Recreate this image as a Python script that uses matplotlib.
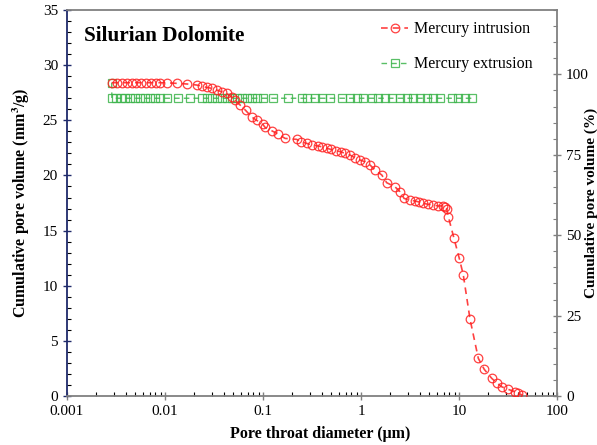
import numpy as np
import matplotlib
matplotlib.use('Agg')
import matplotlib.pyplot as plt
from matplotlib.ticker import MultipleLocator, LogLocator, NullFormatter, FixedLocator

plt.rcParams.update({
    'font.family': 'Liberation Serif',
    'font.size': 11,
    'mathtext.fontset': 'stix',
})

# mercury intrusion: pore throat diameter (um) vs cumulative volume (mm3/g)
intr_d = [0.00286, 0.00321, 0.00361, 0.00406, 0.00457, 0.00506, 0.00565, 0.00640,
          0.00715, 0.00804, 0.00889, 0.0104, 0.0132, 0.0169, 0.0210, 0.0237,
          0.0267, 0.0300, 0.0337, 0.0379, 0.0427, 0.0479, 0.0518, 0.0582,
          0.0665, 0.0767, 0.0862, 0.0993, 0.105, 0.123, 0.143, 0.168,
          0.221, 0.242, 0.279, 0.314, 0.367, 0.397, 0.447, 0.491,
          0.556, 0.621, 0.687, 0.773, 0.869, 0.977, 1.10, 1.24,
          1.39, 1.63, 1.83, 2.22, 2.50, 2.75, 3.16, 3.56,
          3.94, 4.33, 4.86, 5.47, 6.15, 6.92, 7.19, 7.48,
          7.78, 8.89, 10.07, 11.07, 12.95, 15.74, 18.1, 21.6,
          24.6, 27.3, 31.9, 37.3, 40.3, 44.3]
intr_v = [28.41, 28.41, 28.41, 28.41, 28.41, 28.41, 28.41, 28.41,
          28.41, 28.41, 28.41, 28.40, 28.35, 28.29, 28.20, 28.10,
          27.98, 27.90, 27.74, 27.59, 27.44, 27.10, 26.80, 26.40,
          25.90, 25.30, 25.00, 24.65, 24.36, 24.05, 23.75, 23.36,
          23.27, 23.06, 22.91, 22.76, 22.67, 22.60, 22.46, 22.37,
          22.24, 22.15, 22.00, 21.85, 21.60, 21.40, 21.24, 20.94,
          20.49, 20.04, 19.34, 18.98, 18.52, 17.92, 17.77, 17.68,
          17.59, 17.47, 17.38, 17.32, 17.23, 17.25, 17.16, 17.00,
          16.26, 14.30, 12.48, 10.97, 6.98, 3.42, 2.42, 1.60,
          1.15, 0.84, 0.60, 0.39, 0.24, 0.09]

# mercury extrusion
extr_d = [0.00286, 0.00287, 0.00316, 0.00353, 0.00391, 0.00440, 0.00494, 0.00556,
          0.00625, 0.00703, 0.00791, 0.00889, 0.0104, 0.0137, 0.0180, 0.0237,
          0.0266, 0.0300, 0.0337, 0.0379, 0.0427, 0.0480, 0.0540, 0.0607,
          0.0683, 0.0768, 0.0863, 0.101, 0.127, 0.181, 0.248, 0.279,
          0.340, 0.397, 0.483, 0.636, 0.773, 0.904, 1.05, 1.28,
          1.50, 1.76, 2.06, 2.50, 2.93, 3.42, 4.00, 4.68,
          5.47, 6.40, 8.43, 9.85, 11.5, 13.6]
extr_v = [28.41] + [27.0] * (len(extr_d) - 1)

red = '#ff2020'
green = '#3cb44b'
navy = '#1f2a6b'
grey = '#808080'

fig = plt.figure(figsize=(5.97, 4.45), dpi=100)
ax = fig.add_axes([0.1122, 0.110, 0.8208, 0.8675])

ax.plot(intr_d, intr_v, ls=(0, (4, 3)), color=red, lw=1.2, marker='o', ms=6.2,
        mfc='none', mec=red, mew=0.9, alpha=0.85, label='Mercury intrusion', zorder=3)
ax.plot(extr_d, extr_v, ls=(0, (4, 3)), color=green, lw=1.0, marker='s', ms=6,
        mfc='none', mec=green, mew=0.9, alpha=0.85, label='Mercury extrusion', zorder=2)

ax.set_xscale('log')
ax.set_xlim(0.001, 100)
ax.set_ylim(0, 35)
ax.set_xticks([0.001, 0.01, 0.1, 1, 10, 100])
ax.set_xticklabels(['0.001', '0.01', '0.1', '1', '10', '100'])
ax.xaxis.set_minor_locator(LogLocator(base=10, subs=np.arange(2, 10)))
ax.xaxis.set_minor_formatter(NullFormatter())
ax.yaxis.set_major_locator(MultipleLocator(5))
ax.yaxis.set_minor_locator(MultipleLocator(1))

ax.tick_params(which='major', direction='inout', length=6, width=1, labelsize=11)
ax.tick_params(which='minor', direction='in', length=3, width=0.8)
ax.tick_params(axis='x', colors=grey, labelcolor='black')
ax.tick_params(axis='y', colors=navy, labelcolor='black')

for s in ['top', 'right', 'bottom']:
    ax.spines[s].set_color(grey)
    ax.spines[s].set_linewidth(1.3)
ax.spines['left'].set_color(navy)
ax.spines['left'].set_linewidth(1.3)

ax.set_xlabel('Pore throat diameter (μm)', fontweight='bold', fontsize=11.5)
ax.xaxis.set_label_coords(0.516, -0.078)
ax.set_ylabel('Cumulative pore volume (mm$^\\mathbf{3}$/g)', fontweight='bold', fontsize=11.5, labelpad=8)

ax2 = ax.twinx()
ax2.set_ylim(0, 120)
ax2.yaxis.set_major_locator(FixedLocator([0, 25, 50, 75, 100]))
ax2.yaxis.set_minor_locator(MultipleLocator(5))
ax2.tick_params(which='major', direction='inout', length=6, width=1, colors=grey,
                labelcolor='black', labelsize=11)
ax2.tick_params(which='minor', direction='in', length=3, width=0.8, colors=grey)
for s in ax2.spines.values():
    s.set_visible(False)
ax2.set_ylabel('Cumulative pore volume (%)', fontweight='bold', fontsize=11)
ax2.yaxis.set_label_coords(1.057, 0.5)

ax.text(0.035, 0.933, 'Silurian Dolomite', transform=ax.transAxes, fontsize=15.3,
        fontweight='bold', va='center', ha='left')

leg = ax.legend(loc='upper right', bbox_to_anchor=(0.973, 1.0), frameon=False,
                fontsize=11.5, labelspacing=1.2, handlelength=1.7, handletextpad=0.35,
                borderaxespad=0.3)

fig.savefig('out.png', dpi=100)
